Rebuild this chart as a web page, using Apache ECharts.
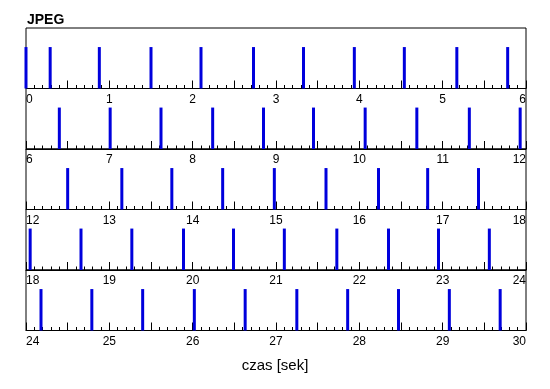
<!DOCTYPE html>
<html><head><meta charset="utf-8">
<script src="https://cdn.jsdelivr.net/npm/echarts@6/dist/echarts.min.js"></script>
<style>html,body{margin:0;padding:0;background:#fff}#c{width:550px;height:389px}</style>
</head><body><div id="c"></div>
<script>
const chartTitle = 'JPEG';
const axisTitle = 'czas [sek]';
const rowStarts = [0, 6, 12, 18, 24];
const rowSpan = 6;
const framesRow1 = [0.00, 0.29, 0.88, 1.50, 2.10, 2.73, 3.33, 3.94, 4.54, 5.17, 5.78];
const framesRow2 = [6.40, 7.01, 7.62, 8.24, 8.85, 9.45, 10.07, 10.69, 11.32, 11.93];
const framesRow3 = [12.50, 13.15, 13.75, 14.36, 14.98, 15.60, 16.23, 16.82, 17.43];
const framesRow4 = [18.05, 18.66, 19.27, 19.89, 20.49, 21.10, 21.73, 22.35, 22.95, 23.56];
const framesRow5 = [24.18, 24.79, 25.40, 26.02, 26.63, 27.25, 27.86, 28.47, 29.08, 29.69];
const frameTimes = [].concat(framesRow1, framesRow2, framesRow3, framesRow4, framesRow5);
const markHeight = 1;

const chart = echarts.init(document.getElementById('c'), null, {renderer: 'canvas'});
const L = 26, R = 24, T0 = 28, H = 60.5;
const FONT = 'Liberation Sans, Arial, Helvetica, sans-serif';
const grids = [], xAxes = [], yAxes = [], series = [];
rowStarts.forEach((s, i) => {
  grids.push({left: L, right: R, top: T0 + i * H, height: H, show: true,
    borderColor: '#000', borderWidth: 1, backgroundColor: 'transparent'});
  xAxes.push({type: 'value', gridIndex: i, min: s, max: s + rowSpan, interval: 0.5,
    axisLine: {show: true, onZero: false, lineStyle: {color: '#000', width: 1}},
    axisTick: {show: true, inside: true, length: 8, lineStyle: {color: '#000', width: 1}},
    minorTick: {show: true, splitNumber: 5, length: 3.5, lineStyle: {color: '#000', width: 1}},
    splitLine: {show: false}, minorSplitLine: {show: false},
    axisLabel: {show: true, color: '#000', fontSize: 12, fontFamily: FONT, margin: 5,
      alignMinLabel: 'left', alignMaxLabel: 'right',
      formatter: v => (Math.abs(v - Math.round(v)) < 1e-6 ? String(Math.round(v)) : '')}
  });
  yAxes.push({type: 'value', gridIndex: i, min: 0, max: 1.46, show: false, splitLine: {show: false}});
  series.push({type: 'bar', xAxisIndex: i, yAxisIndex: i, barWidth: 3, clip: false,
    itemStyle: {color: '#0000dd'}, silent: true,
    data: frameTimes.filter(t => t >= s && t < s + rowSpan).map(t => [t, markHeight])});
});

chart.setOption({
  animation: false,
  backgroundColor: '#fff',
  grid: grids, xAxis: xAxes, yAxis: yAxes, series: series,
  graphic: [
    {type: 'text', left: 27, top: 13, style: {text: chartTitle, font: 'bold 14px ' + FONT, fill: '#000'}},
    {type: 'text', left: 'center', top: 358, style: {text: axisTitle, font: '15px ' + FONT, fill: '#000'}}
  ]
});
</script></body></html>
